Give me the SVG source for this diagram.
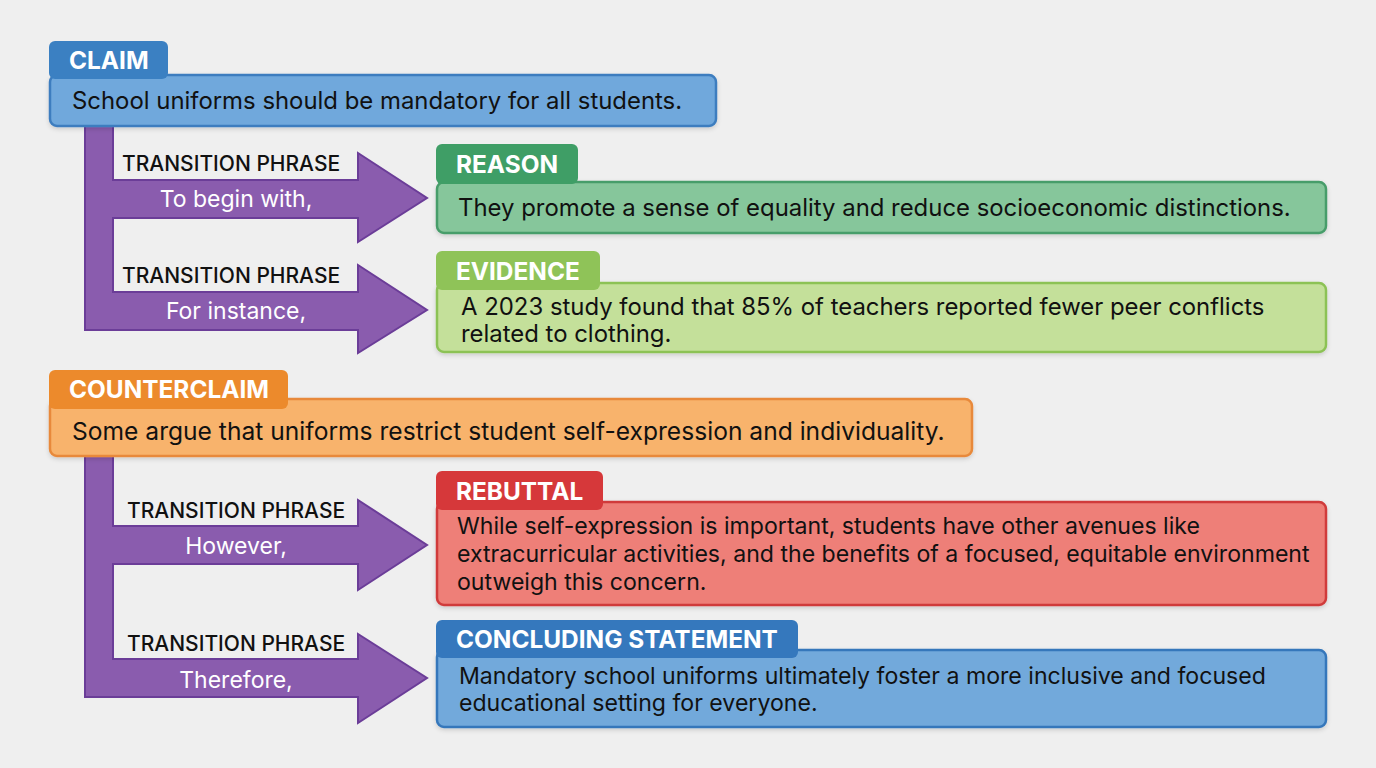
<svg xmlns="http://www.w3.org/2000/svg" width="1376" height="768" viewBox="0 0 1376 768">
<defs>
<style>
.bg{fill:#efefef}
.body{font-family:Inter,"Noto Sans",sans-serif;font-size:23.9px;fill:#111}
.sm{font-size:23.1px}
.lg{font-size:24.6px}
.tab{font-family:Inter,"Noto Sans",sans-serif;font-size:24.4px;font-weight:700;fill:#fff}
.tp{font-family:Inter,"Noto Sans",sans-serif;font-size:21px;font-weight:500;fill:#111}
.tw{font-family:Inter,"Noto Sans",sans-serif;font-size:23px;fill:#fff;text-anchor:middle}
.arrow{fill:#8a5cae;stroke:#6b3d98;stroke-width:2;stroke-linejoin:miter}
</style>
<filter id="sh" x="-5%" y="-20%" width="110%" height="150%">
<feDropShadow dx="0" dy="2" stdDeviation="2" flood-color="#000" flood-opacity="0.15"/>
</filter>
</defs>
<rect class="bg" x="0" y="0" width="1376" height="768"/>

<g id="connectors">
<path class="arrow" d="M85,120 L113,120 L113,180 L358,180 L358,153 L427,198 L358,242 L358,218 L113,218 L113,292 L358,292 L358,265 L427,310 L358,353 L358,330 L85,330 Z"/>
<path class="arrow" d="M85,450 L113,450 L113,526 L358,526 L358,500 L427,545 L358,590 L358,564 L113,564 L113,659 L358,659 L358,634 L427,678 L358,723 L358,697 L85,697 Z"/>
<text class="tp" x="122" y="171">TRANSITION PHRASE</text>
<text class="tw" x="236" y="207">To begin with,</text>
<text class="tp" x="122" y="283">TRANSITION PHRASE</text>
<text class="tw" x="236" y="319">For instance,</text>
<text class="tp" x="127" y="518">TRANSITION PHRASE</text>
<text class="tw" x="236" y="554">However,</text>
<text class="tp" x="127" y="651">TRANSITION PHRASE</text>
<text class="tw" x="236" y="688">Therefore,</text>
</g>

<g id="claim">
<rect x="50" y="75" width="666" height="51" rx="7" fill="#6fa8dc" stroke="#3d7dbf" stroke-width="2.5" filter="url(#sh)"/>
<rect x="49" y="41" width="119" height="38" rx="6" fill="#3b80c2"/>
<text class="tab" x="69" y="69">CLAIM</text>
<text class="body" x="72" y="109">School uniforms should be mandatory for all students.</text>
</g>

<g id="reason">
<rect x="437" y="182" width="889" height="51" rx="7" fill="#86c69b" stroke="#479d6a" stroke-width="2.5" filter="url(#sh)"/>
<rect x="436" y="144" width="142" height="40" rx="6" fill="#3f9e66"/>
<text class="tab" x="456" y="173">REASON</text>
<text class="body" x="458" y="216">They promote a sense of equality and reduce socioeconomic distinctions.</text>
</g>

<g id="evidence">
<rect x="437" y="283" width="889" height="69" rx="7" fill="#c4e09a" stroke="#8cc255" stroke-width="2.5" filter="url(#sh)"/>
<rect x="436" y="251" width="164" height="39" rx="6" fill="#8fc358"/>
<text class="tab" x="456" y="280">EVIDENCE</text>
<text class="body" x="461" y="315">A 2023 study found that 85% of teachers reported fewer peer conflicts</text>
<text class="body" x="461" y="342">related to clothing.</text>
</g>

<g id="counterclaim">
<rect x="50" y="399" width="922" height="57" rx="7" fill="#f8b36c" stroke="#e8893a" stroke-width="2.5" filter="url(#sh)"/>
<rect x="49" y="370" width="239" height="39" rx="6" fill="#ec8a2c"/>
<text class="tab" x="69" y="398">COUNTERCLAIM</text>
<text class="body lg" x="72" y="440">Some argue that uniforms restrict student self-expression and individuality.</text>
</g>

<g id="rebuttal">
<rect x="437" y="502" width="889" height="103" rx="7" fill="#ee7f78" stroke="#d03a3a" stroke-width="2.5" filter="url(#sh)"/>
<rect x="436" y="471" width="167" height="39" rx="6" fill="#d6383a"/>
<text class="tab" x="456" y="500">REBUTTAL</text>
<text class="body sm" x="457" y="534">While self-expression is important, students have other avenues like</text>
<text class="body sm" x="457" y="562">extracurricular activities, and the benefits of a focused, equitable environment</text>
<text class="body sm" x="457" y="590">outweigh this concern.</text>
</g>

<g id="concluding">
<rect x="437" y="650" width="889" height="77" rx="7" fill="#72a9db" stroke="#3677bb" stroke-width="2.5" filter="url(#sh)"/>
<rect x="436" y="620" width="362" height="38" rx="6" fill="#3578bd"/>
<text class="tab" x="456" y="648">CONCLUDING STATEMENT</text>
<text class="body sm" x="459" y="684">Mandatory school uniforms ultimately foster a more inclusive and focused</text>
<text class="body sm" x="459" y="711">educational setting for everyone.</text>
</g>
</svg>
